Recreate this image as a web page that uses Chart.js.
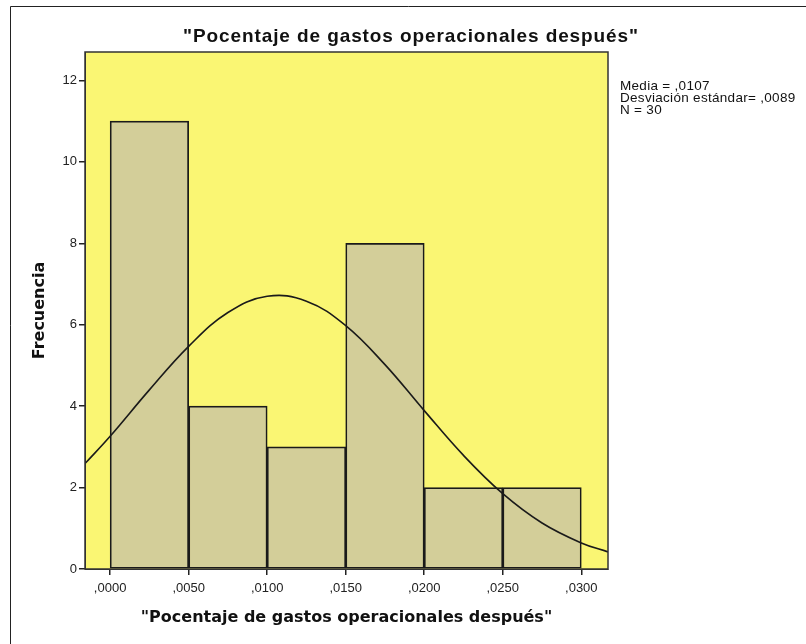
<!DOCTYPE html>
<html lang="es">
<head>
  <meta charset="UTF-8" />
  <title>Histograma</title>
  <style>
    body { margin: 0; background: #fff; }
    canvas { display: block; }
  </style>
  <script src="https://cdn.jsdelivr.net/npm/chart.js"></script>
</head>
<body>
  <canvas id="hist" width="806" height="644"></canvas>

  <script>
    // bins del histograma (inicio de cada intervalo) y frecuencias
    const binStarts = [0.000, 0.005, 0.010, 0.015, 0.020, 0.025];
    const binWidth = 0.005;
    const frecuencias = [11, 4, 3, 8, 2, 2];

    // curva normal
    const curvaX = [-0.0016, 0.0000, 0.0025, 0.0050, 0.0075, 0.0100, 0.0125,
                    0.0150, 0.0175, 0.0200, 0.0225, 0.0250, 0.0275, 0.0300, 0.0317];
    const curvaY = [2.59, 3.26, 4.40, 5.47, 6.30, 6.70, 6.58,
                    5.98, 5.02, 3.89, 2.79, 1.85, 1.13, 0.64, 0.42];

    const yTicks = [0, 2, 4, 6, 8, 10, 12];
    const xTicks = [0.000, 0.005, 0.010, 0.015, 0.020, 0.025, 0.030];

    const titulo = '"Pocentaje de gastos operacionales después"';
    const estadisticos = ['Media = ,0107', 'Desviación estándar= ,0089', 'N = 30'];

    const fmtX = v => ',' + v.toFixed(4).split('.')[1];

    const marco = {
      id: 'marco',
      beforeDraw(chart) {
        const { ctx, chartArea: a } = chart;
        ctx.save();
        ctx.fillStyle = '#faf673';
        ctx.fillRect(a.left, a.top, a.right - a.left, a.bottom - a.top);
        ctx.restore();
      },
      afterDraw(chart) {
        const { ctx, chartArea: a } = chart;
        ctx.save();
        // borde del área
        ctx.strokeStyle = '#333';
        ctx.lineWidth = 1.5;
        ctx.strokeRect(a.left, a.top, a.right - a.left, a.bottom - a.top);
        // marco exterior (solo izquierda y arriba visibles)
        ctx.strokeStyle = '#222';
        ctx.lineWidth = 1;
        ctx.beginPath();
        ctx.moveTo(10.5, 700);
        ctx.lineTo(10.5, 6.5);
        ctx.lineTo(900, 6.5);
        ctx.stroke();
        // título
        ctx.fillStyle = '#111';
        ctx.font = 'bold 19px "Liberation Sans", Arial, sans-serif';
        ctx.letterSpacing = '0.9px';
        ctx.textAlign = 'center';
        ctx.textBaseline = 'middle';
        ctx.fillText(titulo, 411, 37);
        // estadísticos
        ctx.font = '13.5px "Liberation Sans", Arial, sans-serif';
        ctx.letterSpacing = '0.3px';
        ctx.textAlign = 'left';
        estadisticos.forEach((t, i) => ctx.fillText(t, 620, 86 + i * 12));
        ctx.restore();
      }
    };

    const ctx = document.getElementById('hist').getContext('2d');
    new Chart(ctx, {
      type: 'bar',
      data: {
        datasets: [
          {
            type: 'line',
            data: curvaX.map((x, i) => ({ x, y: curvaY[i] })),
            borderColor: '#1a1a1a',
            borderWidth: 1.6,
            pointRadius: 0,
            tension: 0.4,
            fill: false,
            order: 0
          },
          {
            type: 'bar',
            data: binStarts.map((s, i) => ({ x: s + binWidth / 2, y: frecuencias[i] })),
            backgroundColor: '#d3ce99',
            borderColor: '#1a1a1a',
            borderWidth: 1.7,
            borderSkipped: false,
            barPercentage: 1,
            categoryPercentage: 1,
            order: 1
          }
        ]
      },
      options: {
        responsive: false,
        animation: false,
        layout: { padding: { left: 0, right: 198, top: 52, bottom: 0 } },
        plugins: {
          legend: { display: false },
          tooltip: { enabled: false }
        },
        scales: {
          x: {
            type: 'linear',
            min: -0.0016,
            max: 0.0317,
            offset: false,
            afterBuildTicks: s => { s.ticks = xTicks.map(v => ({ value: v })); },
            afterFit: s => { s.height = 75; },
            grid: { offset: false, drawOnChartArea: false, drawTicks: true, tickLength: 6, color: '#222', lineWidth: 1.5 },
            border: { display: true, color: '#333' },
            ticks: {
              color: '#222',
              padding: 6,
              maxRotation: 0,
              font: { family: '"Liberation Sans", Arial, sans-serif', size: 13 },
              callback: v => fmtX(v)
            },
            title: {
              display: true,
              text: titulo,
              color: '#111',
              font: { family: '"DejaVu Sans", sans-serif', size: 16, weight: 'bold' },
              padding: { top: 0, bottom: 17 }
            }
          },
          y: {
            min: 0,
            max: 12.7,
            afterBuildTicks: s => { s.ticks = yTicks.map(v => ({ value: v })); },
            afterFit: s => { s.width = 85; },
            grid: { drawOnChartArea: false, drawTicks: true, tickLength: 6, color: '#222', lineWidth: 1.5 },
            border: { display: true, color: '#333' },
            ticks: {
              color: '#222',
              padding: 2,
              font: { family: '"Liberation Sans", Arial, sans-serif', size: 13 }
            },
            title: {
              display: true,
              text: 'Frecuencia',
              color: '#111',
              font: { family: '"DejaVu Sans", sans-serif', size: 16, weight: 'bold' },
              padding: { top: 30, bottom: 0 }
            }
          }
        }
      },
      plugins: [marco]
    });
  </script>
</body>
</html>
